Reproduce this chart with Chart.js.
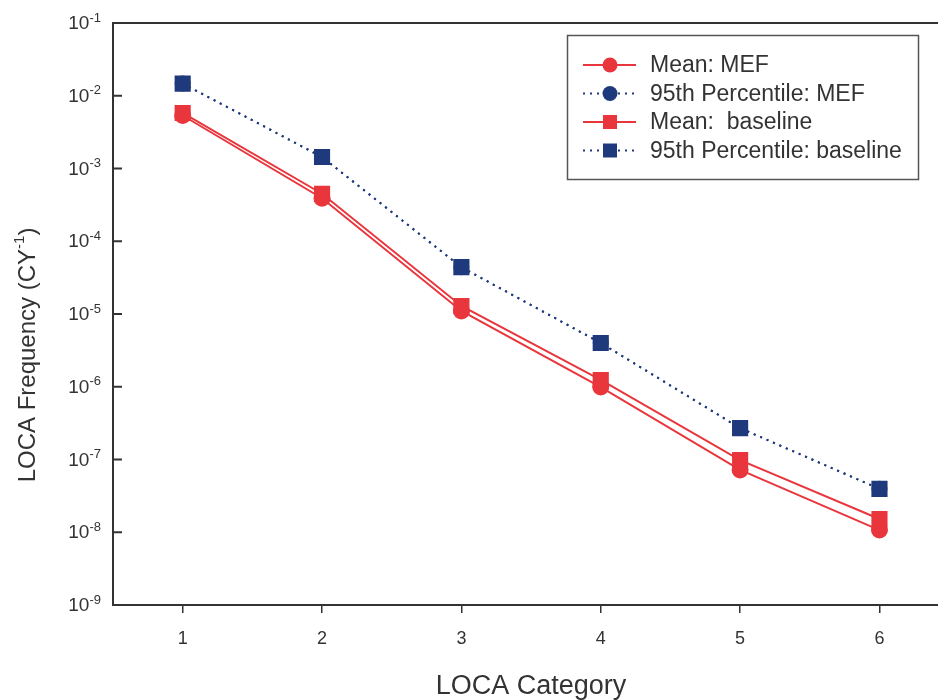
<!DOCTYPE html>
<html>
<head>
<meta charset="utf-8">
<script src="https://cdn.jsdelivr.net/npm/chart.js@4.4.0/dist/chart.umd.min.js"></script>
<style>
  html, body { margin: 0; padding: 0; background: #fff; overflow: hidden; }
</style>
</head>
<body>
<canvas id="myChart" width="950" height="700"></canvas>
<script>
// LOCA categories and frequencies (per calendar year)
const categories = [1, 2, 3, 4, 5, 6];
const meanMEF = [5.35e-3, 3.9e-4, 1.1e-5, 9.9e-7, 7.2e-8, 1.07e-8];
const p95MEF = [1.47e-2, 1.44e-3, 4.4e-5, 4.0e-6, 2.7e-7, 3.95e-8];
const meanBaseline = [5.8e-3, 4.5e-4, 1.29e-5, 1.24e-6, 9.8e-8, 1.52e-8];
const p95Baseline = [1.47e-2, 1.44e-3, 4.4e-5, 4.0e-6, 2.7e-7, 3.95e-8];
const yExponents = [-1, -2, -3, -4, -5, -6, -7, -8, -9];

const FONT = "'Liberation Sans', Arial, Helvetica, sans-serif";
const RED = '#e9363c';
const BLUE = '#1f3a7c';
const AXIS = '#333';

const legendItems = [
    { text: 'Mean: MEF', color: RED, dash: [], style: 'circle' },
    { text: '95th Percentile: MEF', color: BLUE, dash: [2, 5], style: 'circle' },
    { text: 'Mean:  baseline', color: RED, dash: [], style: 'rect' },
    { text: '95th Percentile: baseline', color: BLUE, dash: [2, 5], style: 'rect' }
];

const pts = arr => categories.map((c, i) => ({ x: c, y: arr[i] }));

// text with a superscript part: draws base then raised exponent
function drawSup(ctx, parts, x, y, align) {
    let total = 0;
    parts.forEach(p => { ctx.font = p.size + 'px ' + FONT; p.w = ctx.measureText(p.t).width; total += p.w; });
    let cx = align === 'right' ? x - total : (align === 'center' ? x - total / 2 : x);
    parts.forEach(p => {
        ctx.font = p.size + 'px ' + FONT;
        ctx.textAlign = 'left';
        ctx.textBaseline = 'middle';
        ctx.fillText(p.t, cx, y - (p.rise || 0));
        cx += p.w;
    });
}

const extras = {
    id: 'extras',
    afterDraw(chart) {
        const ctx = chart.ctx;
        const area = chart.chartArea;
        const y = chart.scales.y;
        ctx.save();
        ctx.strokeStyle = AXIS;
        ctx.fillStyle = AXIS;
        ctx.lineWidth = 2;

        // top frame line
        ctx.beginPath();
        ctx.moveTo(area.left, area.top);
        ctx.lineTo(chart.width, area.top);
        ctx.stroke();

        // inward y ticks + labels 10^n
        yExponents.forEach(e => {
            const py = y.getPixelForValue(Math.pow(10, e));
            ctx.beginPath();
            ctx.moveTo(area.left, py);
            ctx.lineTo(area.left + 9, py);
            ctx.stroke();
            drawSup(ctx, [
                { t: '10', size: 19 },
                { t: '-' + Math.abs(e), size: 13, rise: 6 }
            ], area.left - 12, py + 1, 'right');
        });

        // y title
        ctx.save();
        ctx.translate(28, 355);
        ctx.rotate(-Math.PI / 2);
        drawSup(ctx, [
            { t: 'LOCA Frequency (CY', size: 24 },
            { t: '-1', size: 15, rise: 8 },
            { t: ')', size: 24 }
        ], 0, 0, 'center');
        ctx.restore();

        // x title
        ctx.font = '27px ' + FONT;
        ctx.textAlign = 'center';
        ctx.textBaseline = 'middle';
        ctx.fillText('LOCA Category', 531, 687);

        // legend box
        ctx.lineWidth = 1.5;
        ctx.strokeStyle = '#555';
        ctx.strokeRect(567.5, 35.5, 351, 144);
        legendItems.forEach((it, i) => {
            const ly = 65 + i * 28.5;
            ctx.strokeStyle = it.color;
            ctx.fillStyle = it.color;
            ctx.lineWidth = 2;
            ctx.setLineDash(it.dash);
            ctx.beginPath();
            ctx.moveTo(583, ly);
            ctx.lineTo(636, ly);
            ctx.stroke();
            ctx.setLineDash([]);
            ctx.beginPath();
            if (it.style === 'circle') ctx.arc(610, ly, 7.5, 0, Math.PI * 2);
            else ctx.rect(603, ly - 7, 14, 14);
            ctx.fill();
            ctx.fillStyle = AXIS;
            ctx.font = '23px ' + FONT;
            ctx.textAlign = 'left';
            ctx.textBaseline = 'middle';
            ctx.fillText(it.text, 650, ly + 1);
        });
        ctx.restore();
    }
};

new Chart(document.getElementById('myChart'), {
    type: 'line',
    data: {
        datasets: [
            { label: 'Mean: MEF', data: pts(meanMEF), borderColor: RED, backgroundColor: RED,
              borderWidth: 2, pointStyle: 'circle', pointRadius: 7.5, order: 4 },
            { label: '95th Percentile: MEF', data: pts(p95MEF), borderColor: BLUE, backgroundColor: BLUE,
              borderWidth: 2, borderDash: [2, 5], pointStyle: 'circle', pointRadius: 7, order: 3 },
            { label: 'Mean:  baseline', data: pts(meanBaseline), borderColor: RED, backgroundColor: RED,
              borderWidth: 2, pointStyle: 'rect', pointRadius: 10, order: 2 },
            { label: '95th Percentile: baseline', data: pts(p95Baseline), borderColor: BLUE, backgroundColor: BLUE,
              borderWidth: 2, borderDash: [2, 5], pointStyle: 'rect', pointRadius: 10, order: 1 }
        ]
    },
    options: {
        responsive: false,
        animation: false,
        layout: { padding: { top: 23, right: 0, left: 0, bottom: 0 } },
        plugins: { legend: { display: false }, tooltip: { enabled: false } },
        elements: { line: { tension: 0 }, point: { borderWidth: 0 } },
        scales: {
            x: {
                type: 'linear',
                min: 0.5,
                max: 6.42,
                afterFit: s => { s.height = 95; s.paddingLeft = 0; s.paddingRight = 0; },
                afterBuildTicks: s => { s.ticks = categories.map(c => ({ value: c })); },
                border: { display: true, color: AXIS, width: 2 },
                grid: { display: true, drawOnChartArea: false, drawTicks: true, tickLength: 8, color: AXIS, lineWidth: 1.5 },
                ticks: { color: AXIS, padding: 15, font: { family: FONT, size: 18 } }
            },
            y: {
                type: 'logarithmic',
                min: 1e-9,
                max: 1e-1,
                afterFit: s => { s.width = 113; s.paddingTop = 0; s.paddingBottom = 0; },
                afterBuildTicks: s => { s.ticks = yExponents.map(e => ({ value: Math.pow(10, e) })); },
                border: { display: true, color: AXIS, width: 2 },
                grid: { display: false },
                ticks: { display: false }
            }
        }
    },
    plugins: [extras]
});
</script>
</body>
</html>
